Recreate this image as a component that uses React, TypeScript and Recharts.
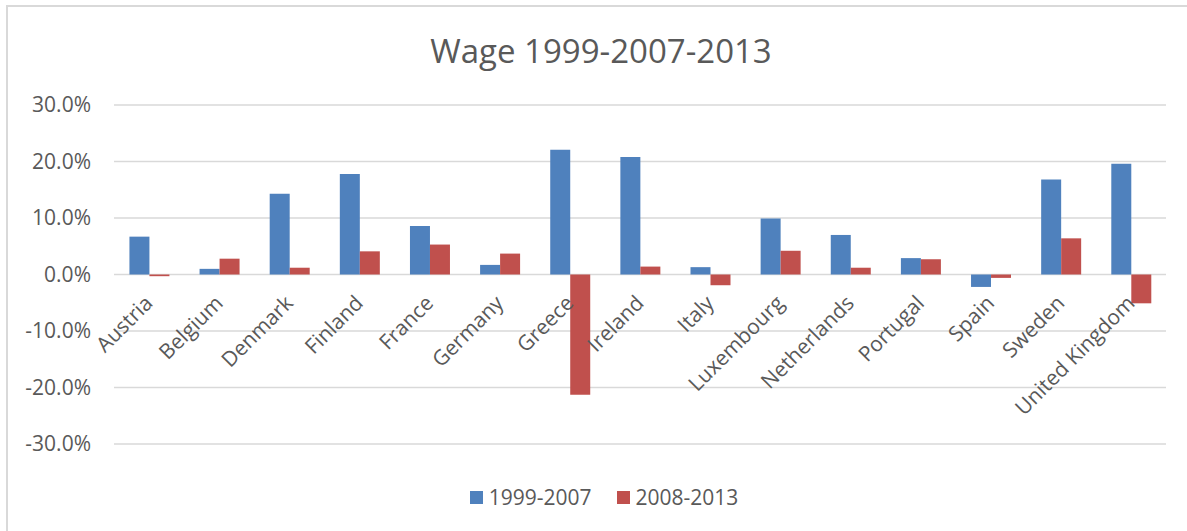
import React from "react";
import { BarChart, Bar, XAxis, YAxis, CartesianGrid, Legend } from "recharts";

const countries = [
  "Austria", "Belgium", "Denmark", "Finland", "France", "Germany", "Greece",
  "Ireland", "Italy", "Luxembourg", "Netherlands", "Portugal", "Spain", "Sweden", "United Kingdom",
];
const wage1999to2007 = [0.067, 0.010, 0.143, 0.178, 0.086, 0.017, 0.221, 0.208, 0.013, 0.099, 0.070, 0.029, -0.022, 0.168, 0.196];
const wage2008to2013 = [-0.003, 0.028, 0.012, 0.041, 0.053, 0.037, -0.213, 0.014, -0.019, 0.042, 0.012, 0.027, -0.006, 0.064, -0.051];
const yTicks = [-0.3, -0.2, -0.1, 0, 0.1, 0.2, 0.3];
const seriesNames = ["1999-2007", "2008-2013"];

const data = countries.map((c, i) => ({
  country: c,
  a: wage1999to2007[i],
  b: wage2008to2013[i],
}));

const W = 1187;
const H = 531;
const PLOT_TOP = 105;
const PLOT_BOTTOM = 444;
const FONT = "'Open Sans', 'Noto Sans', sans-serif";
const TEXT = "#595959";
const BLUE = "#4F81BD";
const RED = "#C0504D";

const zeroOffset = ((0 - yTicks[0]) / (yTicks[yTicks.length - 1] - yTicks[0])) * (PLOT_BOTTOM - PLOT_TOP);

const CategoryTick = (props: any) => {
  const { x, y, payload } = props;
  const ax = x + 5;
  const ay = y - zeroOffset + 30;
  return (
    <text
      x={ax}
      y={ay}
      transform={`rotate(-45, ${ax}, ${ay})`}
      textAnchor="end"
      fill={TEXT}
      fontSize={21}
      fontFamily={FONT}
    >
      {payload.value}
    </text>
  );
};

const LegendContent = (props: any) => {
  const { payload } = props;
  return (
    <div style={{ display: "flex", justifyContent: "center", alignItems: "center", fontFamily: FONT, fontSize: 21, color: TEXT, height: 30 }}>
      {(payload || []).map((p: any, i: number) => (
        <div key={i} style={{ display: "flex", alignItems: "center", marginLeft: i > 0 ? 25 : 0 }}>
          <span style={{ display: "inline-block", width: 13, height: 13, background: p.color, marginRight: 6 }} />
          <span>{p.value}</span>
        </div>
      ))}
    </div>
  );
};

export default function App() {
  return (
    <div style={{ position: "absolute", left: 0, top: 0, width: W, height: H, overflow: "hidden", background: "#fff" }}>
      <div style={{ position: "absolute", left: 6, top: 5, width: 1400, height: 800, border: "2px solid #d9d9d9", boxSizing: "border-box" }} />
      <BarChart
        width={W}
        height={H}
        data={data}
        margin={{ top: PLOT_TOP, right: W - 1166, bottom: 0, left: 0 }}
        barCategoryGap="22%"
        barGap={0}
        style={{ position: "absolute", left: 0, top: 0 }}
      >
        <text x={601} y={63} textAnchor="middle" fill={TEXT} fontSize={33} fontFamily={FONT}>
          Wage 1999-2007-2013
        </text>
        <CartesianGrid vertical={false} stroke="#d9d9d9" strokeWidth={1.5} />
        <XAxis
          dataKey="country"
          interval={0}
          axisLine={false}
          tickLine={false}
          tickSize={0}
          tickMargin={0}
          height={H - PLOT_BOTTOM - 30}
          tick={<CategoryTick />}
        />
        <YAxis
          width={114}
          domain={[yTicks[0], yTicks[yTicks.length - 1]]}
          ticks={yTicks}
          axisLine={false}
          tickLine={false}
          tickSize={0}
          tickMargin={23}
          tickFormatter={(v: number) => (v * 100).toFixed(1) + "%"}
          tick={{ fill: TEXT, fontSize: 21, fontFamily: FONT }}
        />
        <Legend
          verticalAlign="bottom"
          content={<LegendContent />}
          wrapperStyle={{ left: 6, width: 1196, top: 482, height: 30 }}
        />
        <Bar dataKey="a" name={seriesNames[0]} fill={BLUE} isAnimationActive={false} />
        <Bar dataKey="b" name={seriesNames[1]} fill={RED} isAnimationActive={false} />
      </BarChart>
    </div>
  );
}
